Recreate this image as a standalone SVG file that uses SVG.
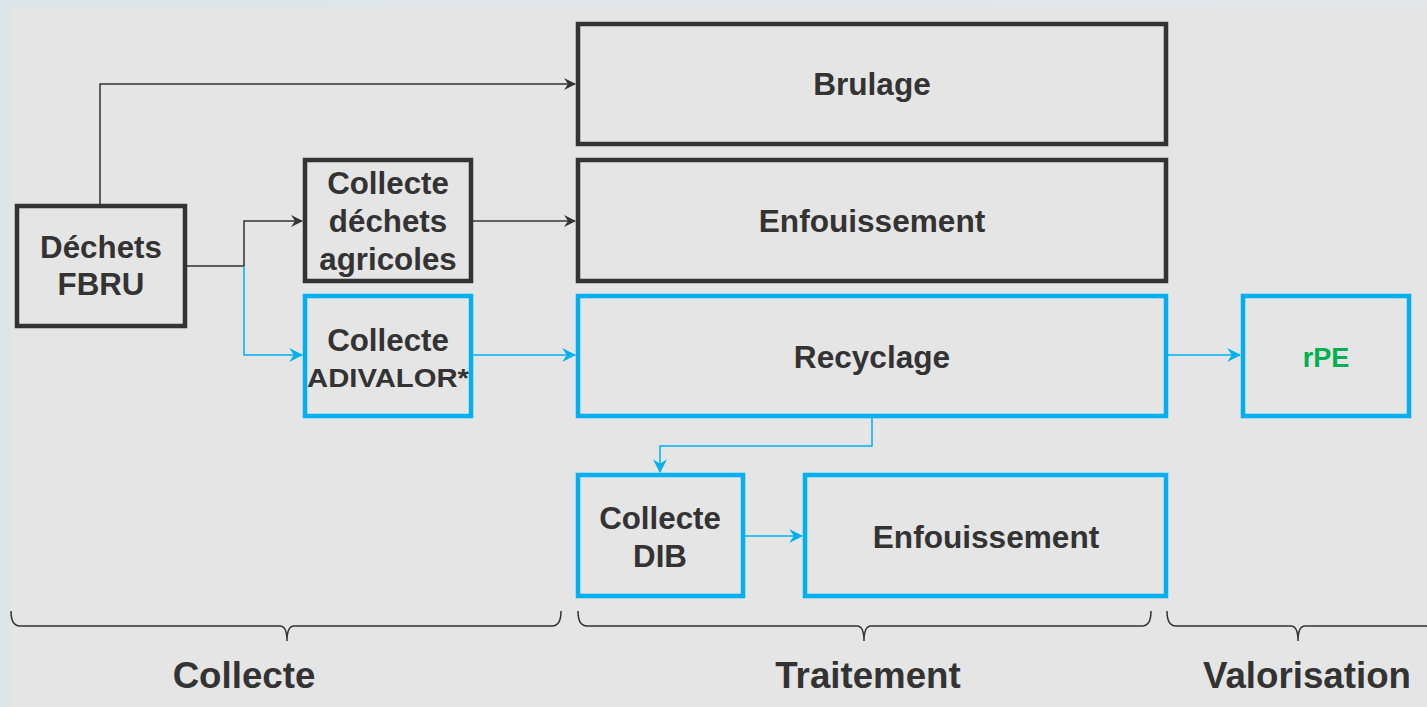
<svg xmlns="http://www.w3.org/2000/svg" width="1427" height="707" viewBox="0 0 1427 707">
<defs>
<linearGradient id="bg" x1="0" y1="0" x2="1" y2="0">
<stop offset="0" stop-color="#dbe5ea"/><stop offset="1" stop-color="#e3e8ea"/>
</linearGradient>
<marker id="ad" viewBox="0 0 12 12" refX="11" refY="6" markerWidth="12" markerHeight="12" markerUnits="userSpaceOnUse" orient="auto">
<path d="M0,0 L12,6 L0,12 L4,6 Z" fill="#333"/>
</marker>
<marker id="ab" viewBox="0 0 12 12" refX="11" refY="6" markerWidth="14" markerHeight="14" markerUnits="userSpaceOnUse" orient="auto">
<path d="M0,0 L12,6 L0,12 L4,6 Z" fill="#00b0f0"/>
</marker>
</defs>
<style>
.bd{fill:none;stroke:#333;stroke-width:4.5}
.bb{fill:none;stroke:#00b0f0;stroke-width:4.5}
.t{font-family:"Liberation Sans",Arial,sans-serif;font-weight:bold;fill:#333;text-anchor:middle}
.s{font-size:31.3px}
.L{font-size:31.6px}
.cd{fill:none;stroke:#333;stroke-width:1.5}
.cb{fill:none;stroke:#00b0f0;stroke-width:1.5}
.br{fill:none;stroke:#333;stroke-width:1.5}
</style>
<rect x="0" y="0" width="1427" height="707" fill="url(#bg)"/>
<rect x="10" y="8" width="1417" height="699" fill="#e5e5e5"/>

<g id="connectors">
<path class="cd" d="M100,205 V84 H575" marker-end="url(#ad)"/>
<path class="cd" d="M186,266 H244 V221 H302" marker-end="url(#ad)"/>
<path class="cb" d="M244,266 V355 H302" marker-end="url(#ab)"/>
<path class="cd" d="M472,221 H575" marker-end="url(#ad)"/>
<path class="cb" d="M472,355 H575" marker-end="url(#ab)"/>
<path class="cb" d="M1167,355 H1240" marker-end="url(#ab)"/>
<path class="cb" d="M872,417 V446 H660 V472" marker-end="url(#ab)"/>
<path class="cb" d="M744,536 H802" marker-end="url(#ab)"/>
</g>

<g id="fbru"><rect class="bd" x="17" y="206" width="168" height="120"/>
<text class="t s"><tspan x="101" y="258">Déchets</tspan><tspan x="101" y="295">FBRU</tspan></text></g>
<g id="brulage"><rect class="bd" x="578" y="24" width="588" height="120"/>
<text class="t L" x="872" y="95">Brulage</text></g>
<g id="enf1"><rect class="bd" x="578" y="160" width="588" height="121"/>
<text class="t L" x="872" y="232">Enfouissement</text></g>
<g id="agri"><rect class="bd" x="305" y="160" width="166" height="121"/>
<text class="t s"><tspan x="388" y="194">Collecte</tspan><tspan x="388" y="232">déchets</tspan><tspan x="388" y="270">agricoles</tspan></text></g>
<g id="adivalor"><rect class="bb" x="305" y="296" width="166" height="120"/>
<text class="t s" x="388" y="351">Collecte</text>
<text class="t" font-size="26" x="388" y="387" textLength="162" lengthAdjust="spacingAndGlyphs">ADIVALOR*</text></g>
<g id="recyclage"><rect class="bb" x="578" y="296" width="588" height="120"/>
<text class="t L" x="872" y="368">Recyclage</text></g>
<g id="rpe"><rect class="bb" x="1243" y="296" width="166" height="120"/>
<text class="t" font-size="27" x="1326" y="367" style="fill:#00b050">rPE</text></g>
<g id="dib"><rect class="bb" x="578" y="475" width="165" height="121"/>
<text class="t s"><tspan x="660" y="529">Collecte</tspan><tspan x="660" y="567">DIB</tspan></text></g>
<g id="enf2"><rect class="bb" x="805" y="475" width="361" height="121"/>
<text class="t L" x="986" y="548">Enfouissement</text></g>

<g id="braces">
<path class="br" d="M11,611 Q11,626 20,626 H280 Q287,626 287,641 Q287,626 294,626 H552 Q561,626 561,611"/>
<path class="br" d="M578,611 Q578,626 587,626 H857 Q864,626 864,641 Q864,626 871,626 H1142 Q1151,626 1151,611"/>
<path class="br" d="M1167,611 Q1167,626 1176,626 H1291 Q1298,626 1298,641 Q1298,626 1305,626 H1427"/>
</g>
<g id="labels">
<text class="t" font-size="36.7" x="244" y="688">Collecte</text>
<text class="t" font-size="36.7" x="868" y="688">Traitement</text>
<text class="t" font-size="36.7" x="1307" y="688">Valorisation</text>
</g>
</svg>
